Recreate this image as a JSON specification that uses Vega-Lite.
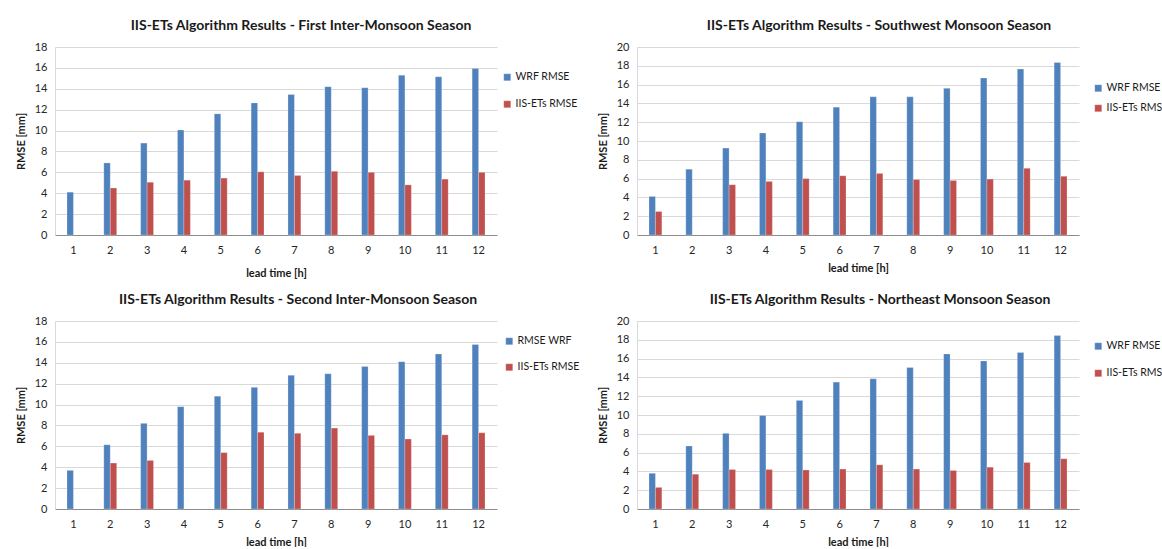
{
  "$schema": "https://vega.github.io/schema/vega-lite/v6.json",
  "autosize": {"type": "pad"},
  "padding": {"left": 15, "top": 19, "right": 0, "bottom": 0},
  "background": "white",
  "config": {
    "font": "Lato",
    "view": {"stroke": null},
    "axis": {"labelFont": "Lato", "labelFontSize": 11, "labelColor": "#262626", "titleFont": "Lato", "titleFontSize": 11, "titleFontWeight": "bold", "titleColor": "#1a1a1a", "ticks": false, "gridColor": "#D9D9D9", "gridWidth": 1},
    "axisX": {"labelAngle": 0, "grid": false, "domainColor": "#8C8C8C", "domainWidth": 1, "labelPadding": 9},
    "axisY": {"domainColor": "#D9D9D9", "labelPadding": 8, "titlePadding": 8},
    "legend": {"symbolType": "square", "symbolSize": 49, "symbolStrokeWidth": 0, "labelFont": "Lato", "labelFontSize": 10.5, "labelColor": "#1a1a1a", "labelOffset": 3, "padding": 0, "labelLimit": 200},
    "title": {"font": "Lato", "fontSize": 14, "fontWeight": "bold", "color": "#1a1a1a", "frame": "group", "anchor": "middle", "baseline": "alphabetic", "offset": 8},
    "bar": {"stroke": "#ffffff", "strokeWidth": 0.4, "strokeOpacity": 0.6}
  },
  "datasets": {
    "p1": [
      {"lead": 1, "series": "WRF RMSE", "rmse": 4.1},
      {"lead": 2, "series": "WRF RMSE", "rmse": 6.9},
      {"lead": 3, "series": "WRF RMSE", "rmse": 8.8},
      {"lead": 4, "series": "WRF RMSE", "rmse": 10.05},
      {"lead": 5, "series": "WRF RMSE", "rmse": 11.6},
      {"lead": 6, "series": "WRF RMSE", "rmse": 12.65},
      {"lead": 7, "series": "WRF RMSE", "rmse": 13.45},
      {"lead": 8, "series": "WRF RMSE", "rmse": 14.2},
      {"lead": 9, "series": "WRF RMSE", "rmse": 14.1},
      {"lead": 10, "series": "WRF RMSE", "rmse": 15.3},
      {"lead": 11, "series": "WRF RMSE", "rmse": 15.15},
      {"lead": 12, "series": "WRF RMSE", "rmse": 15.95},
      {"lead": 2, "series": "IIS-ETs RMSE", "rmse": 4.5},
      {"lead": 3, "series": "IIS-ETs RMSE", "rmse": 5.05},
      {"lead": 4, "series": "IIS-ETs RMSE", "rmse": 5.25},
      {"lead": 5, "series": "IIS-ETs RMSE", "rmse": 5.45},
      {"lead": 6, "series": "IIS-ETs RMSE", "rmse": 6.05},
      {"lead": 7, "series": "IIS-ETs RMSE", "rmse": 5.7},
      {"lead": 8, "series": "IIS-ETs RMSE", "rmse": 6.1},
      {"lead": 9, "series": "IIS-ETs RMSE", "rmse": 6.0},
      {"lead": 10, "series": "IIS-ETs RMSE", "rmse": 4.8},
      {"lead": 11, "series": "IIS-ETs RMSE", "rmse": 5.35},
      {"lead": 12, "series": "IIS-ETs RMSE", "rmse": 6.0}
    ],
    "p2": [
      {"lead": 1, "series": "WRF RMSE", "rmse": 4.1},
      {"lead": 2, "series": "WRF RMSE", "rmse": 7.0},
      {"lead": 3, "series": "WRF RMSE", "rmse": 9.25},
      {"lead": 4, "series": "WRF RMSE", "rmse": 10.85},
      {"lead": 5, "series": "WRF RMSE", "rmse": 12.05},
      {"lead": 6, "series": "WRF RMSE", "rmse": 13.6},
      {"lead": 7, "series": "WRF RMSE", "rmse": 14.7},
      {"lead": 8, "series": "WRF RMSE", "rmse": 14.7},
      {"lead": 9, "series": "WRF RMSE", "rmse": 15.6},
      {"lead": 10, "series": "WRF RMSE", "rmse": 16.7},
      {"lead": 11, "series": "WRF RMSE", "rmse": 17.65},
      {"lead": 12, "series": "WRF RMSE", "rmse": 18.35},
      {"lead": 1, "series": "IIS-ETs RMSE", "rmse": 2.5},
      {"lead": 3, "series": "IIS-ETs RMSE", "rmse": 5.35},
      {"lead": 4, "series": "IIS-ETs RMSE", "rmse": 5.7},
      {"lead": 5, "series": "IIS-ETs RMSE", "rmse": 6.0},
      {"lead": 6, "series": "IIS-ETs RMSE", "rmse": 6.3},
      {"lead": 7, "series": "IIS-ETs RMSE", "rmse": 6.55},
      {"lead": 8, "series": "IIS-ETs RMSE", "rmse": 5.9},
      {"lead": 9, "series": "IIS-ETs RMSE", "rmse": 5.8},
      {"lead": 10, "series": "IIS-ETs RMSE", "rmse": 5.95},
      {"lead": 11, "series": "IIS-ETs RMSE", "rmse": 7.1},
      {"lead": 12, "series": "IIS-ETs RMSE", "rmse": 6.25}
    ],
    "p3": [
      {"lead": 1, "series": "RMSE WRF", "rmse": 3.7},
      {"lead": 2, "series": "RMSE WRF", "rmse": 6.15},
      {"lead": 3, "series": "RMSE WRF", "rmse": 8.2},
      {"lead": 4, "series": "RMSE WRF", "rmse": 9.8},
      {"lead": 5, "series": "RMSE WRF", "rmse": 10.8},
      {"lead": 6, "series": "RMSE WRF", "rmse": 11.65},
      {"lead": 7, "series": "RMSE WRF", "rmse": 12.8},
      {"lead": 8, "series": "RMSE WRF", "rmse": 12.95},
      {"lead": 9, "series": "RMSE WRF", "rmse": 13.65},
      {"lead": 10, "series": "RMSE WRF", "rmse": 14.1},
      {"lead": 11, "series": "RMSE WRF", "rmse": 14.85},
      {"lead": 12, "series": "RMSE WRF", "rmse": 15.75},
      {"lead": 2, "series": "IIS-ETs RMSE", "rmse": 4.4},
      {"lead": 3, "series": "IIS-ETs RMSE", "rmse": 4.65},
      {"lead": 5, "series": "IIS-ETs RMSE", "rmse": 5.4},
      {"lead": 6, "series": "IIS-ETs RMSE", "rmse": 7.35},
      {"lead": 7, "series": "IIS-ETs RMSE", "rmse": 7.25},
      {"lead": 8, "series": "IIS-ETs RMSE", "rmse": 7.75},
      {"lead": 9, "series": "IIS-ETs RMSE", "rmse": 7.05},
      {"lead": 10, "series": "IIS-ETs RMSE", "rmse": 6.7},
      {"lead": 11, "series": "IIS-ETs RMSE", "rmse": 7.1},
      {"lead": 12, "series": "IIS-ETs RMSE", "rmse": 7.3}
    ],
    "p4": [
      {"lead": 1, "series": "WRF RMSE", "rmse": 3.8},
      {"lead": 2, "series": "WRF RMSE", "rmse": 6.7},
      {"lead": 3, "series": "WRF RMSE", "rmse": 8.05},
      {"lead": 4, "series": "WRF RMSE", "rmse": 9.95},
      {"lead": 5, "series": "WRF RMSE", "rmse": 11.55},
      {"lead": 6, "series": "WRF RMSE", "rmse": 13.5},
      {"lead": 7, "series": "WRF RMSE", "rmse": 13.85},
      {"lead": 8, "series": "WRF RMSE", "rmse": 15.05},
      {"lead": 9, "series": "WRF RMSE", "rmse": 16.5},
      {"lead": 10, "series": "WRF RMSE", "rmse": 15.75},
      {"lead": 11, "series": "WRF RMSE", "rmse": 16.65},
      {"lead": 12, "series": "WRF RMSE", "rmse": 18.45},
      {"lead": 1, "series": "IIS-ETs RMSE", "rmse": 2.3},
      {"lead": 2, "series": "IIS-ETs RMSE", "rmse": 3.7},
      {"lead": 3, "series": "IIS-ETs RMSE", "rmse": 4.2},
      {"lead": 4, "series": "IIS-ETs RMSE", "rmse": 4.2},
      {"lead": 5, "series": "IIS-ETs RMSE", "rmse": 4.15},
      {"lead": 6, "series": "IIS-ETs RMSE", "rmse": 4.25},
      {"lead": 7, "series": "IIS-ETs RMSE", "rmse": 4.7},
      {"lead": 8, "series": "IIS-ETs RMSE", "rmse": 4.25},
      {"lead": 9, "series": "IIS-ETs RMSE", "rmse": 4.1},
      {"lead": 10, "series": "IIS-ETs RMSE", "rmse": 4.45},
      {"lead": 11, "series": "IIS-ETs RMSE", "rmse": 4.95},
      {"lead": 12, "series": "IIS-ETs RMSE", "rmse": 5.35}
    ]
  },
  "columns": 2,
  "spacing": {"row": 86, "column": 140},
  "bounds": "flush",
  "resolve": {"scale": {"x": "independent", "y": "independent", "xOffset": "independent", "color": "independent"}, "legend": {"color": "independent"}},
  "concat": [
    {
      "width": 442, "height": 188,
      "title": {"text": "IIS-ETs Algorithm Results - First Inter-Monsoon Season", "dx": 25},
      "data": {"name": "p1"},
      "mark": {"type": "bar"},
      "encoding": {
        "x": {"field": "lead", "type": "ordinal", "scale": {"paddingInner": 0.65, "paddingOuter": 0.325}, "axis": {"title": "lead time [h]", "titlePadding": 12}},
        "xOffset": {"field": "series", "type": "nominal", "scale": {"domain": ["WRF RMSE", "IIS-ETs RMSE"], "paddingInner": 0, "paddingOuter": 0}},
        "y": {"field": "rmse", "type": "quantitative", "scale": {"domain": [0, 18], "nice": false}, "axis": {"title": "RMSE [mm]", "values": [0, 2, 4, 6, 8, 10, 12, 14, 16, 18]}},
        "color": {"field": "series", "type": "nominal", "scale": {"domain": ["WRF RMSE", "IIS-ETs RMSE"], "range": ["#4F81BD", "#C0504D"]}, "legend": {"title": null, "orient": "none", "legendX": 447, "legendY": 25, "rowPadding": 16}}
      }
    },
    {
      "width": 442, "height": 188,
      "title": {"text": "IIS-ETs Algorithm Results - Southwest Monsoon Season", "dx": 21},
      "data": {"name": "p2"},
      "mark": {"type": "bar"},
      "encoding": {
        "x": {"field": "lead", "type": "ordinal", "scale": {"paddingInner": 0.65, "paddingOuter": 0.325}, "axis": {"title": "lead time [h]", "titlePadding": 7}},
        "xOffset": {"field": "series", "type": "nominal", "scale": {"domain": ["WRF RMSE", "IIS-ETs RMSE"], "paddingInner": 0, "paddingOuter": 0}},
        "y": {"field": "rmse", "type": "quantitative", "scale": {"domain": [0, 20], "nice": false}, "axis": {"title": "RMSE [mm]", "values": [0, 2, 4, 6, 8, 10, 12, 14, 16, 18, 20]}},
        "color": {"field": "series", "type": "nominal", "scale": {"domain": ["WRF RMSE", "IIS-ETs RMSE"], "range": ["#4F81BD", "#C0504D"]}, "legend": {"title": null, "orient": "none", "legendX": 456, "legendY": 36, "rowPadding": 9}}
      }
    },
    {
      "width": 442, "height": 188,
      "title": {"text": "IIS-ETs Algorithm Results - Second Inter-Monsoon Season", "dx": 22},
      "data": {"name": "p3"},
      "mark": {"type": "bar"},
      "encoding": {
        "x": {"field": "lead", "type": "ordinal", "scale": {"paddingInner": 0.65, "paddingOuter": 0.325}, "axis": {"title": "lead time [h]", "titlePadding": 7}},
        "xOffset": {"field": "series", "type": "nominal", "scale": {"domain": ["RMSE WRF", "IIS-ETs RMSE"], "paddingInner": 0, "paddingOuter": 0}},
        "y": {"field": "rmse", "type": "quantitative", "scale": {"domain": [0, 18], "nice": false}, "axis": {"title": "RMSE [mm]", "values": [0, 2, 4, 6, 8, 10, 12, 14, 16, 18]}},
        "color": {"field": "series", "type": "nominal", "scale": {"domain": ["RMSE WRF", "IIS-ETs RMSE"], "range": ["#4F81BD", "#C0504D"]}, "legend": {"title": null, "orient": "none", "legendX": 449, "legendY": 15, "rowPadding": 15}}
      }
    },
    {
      "width": 442, "height": 188,
      "title": {"text": "IIS-ETs Algorithm Results - Northeast Monsoon Season", "dx": 22},
      "data": {"name": "p4"},
      "mark": {"type": "bar"},
      "encoding": {
        "x": {"field": "lead", "type": "ordinal", "scale": {"paddingInner": 0.65, "paddingOuter": 0.325}, "axis": {"title": "lead time [h]", "titlePadding": 7}},
        "xOffset": {"field": "series", "type": "nominal", "scale": {"domain": ["WRF RMSE", "IIS-ETs RMSE"], "paddingInner": 0, "paddingOuter": 0}},
        "y": {"field": "rmse", "type": "quantitative", "scale": {"domain": [0, 20], "nice": false}, "axis": {"title": "RMSE [mm]", "values": [0, 2, 4, 6, 8, 10, 12, 14, 16, 18, 20]}},
        "color": {"field": "series", "type": "nominal", "scale": {"domain": ["WRF RMSE", "IIS-ETs RMSE"], "range": ["#4F81BD", "#C0504D"]}, "legend": {"title": null, "orient": "none", "legendX": 456, "legendY": 20, "rowPadding": 16}}
      }
    }
  ]
}
